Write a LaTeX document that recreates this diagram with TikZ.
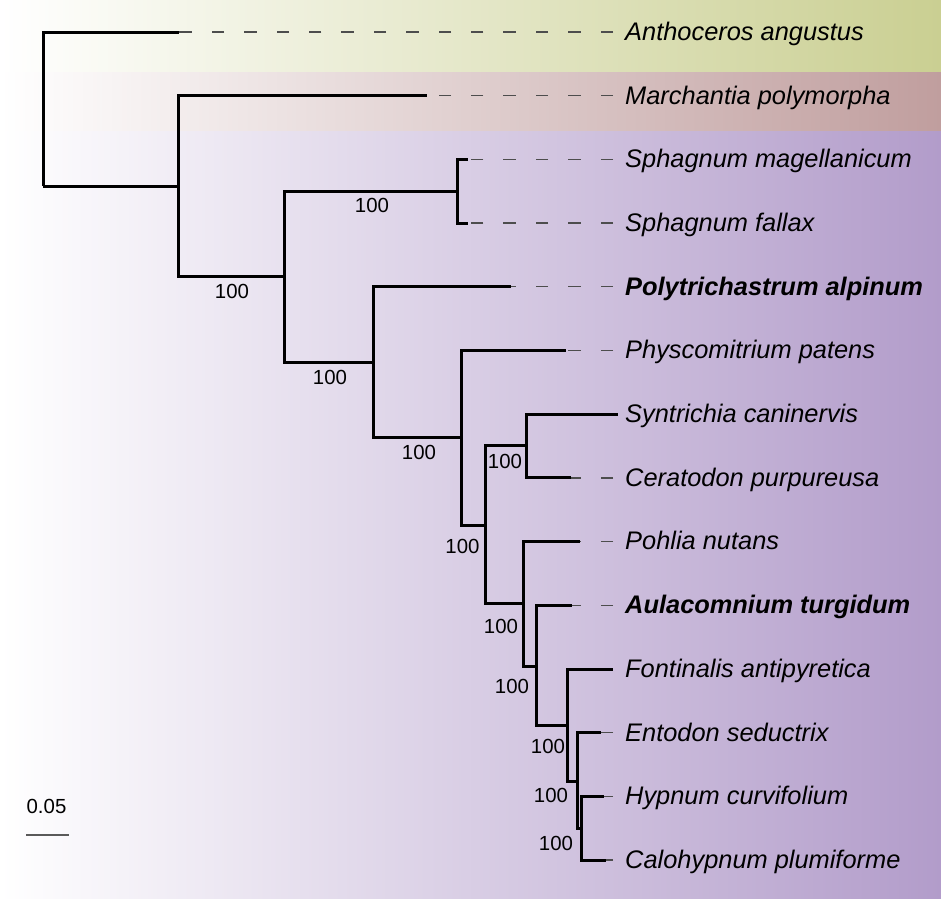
\documentclass[tikz,border=0pt]{standalone}
\usepackage{fontspec}
\setmainfont{Liberation Sans}
\definecolor{bgG}{RGB}{202,207,146}
\definecolor{bgR}{RGB}{192,158,158}
\definecolor{bgP}{RGB}{178,156,202}
\definecolor{dashgray}{RGB}{77,77,77}
\definecolor{bargray}{RGB}{90,90,90}
\tikzset{
  branch/.style={line width=3pt, black, line join=miter},
  dashline/.style={line width=1.3pt, dashgray, dash pattern=on 12.5pt off 19.9pt},
  taxon/.style={anchor=base west, inner sep=0pt, font=\fontsize{25.4}{30}\selectfont\itshape},
  taxonb/.style={taxon, font=\fontsize{25.4}{30}\selectfont\itshape\bfseries},
  boot/.style={inner sep=0pt, font=\fontsize{20.4}{24}\selectfont},
}
\begin{document}
\begin{tikzpicture}[x=1pt,y=-1pt]
\useasboundingbox (0,0) rectangle (941,898);
% background bands
\shade[left color=white, right color=bgG] (0,0) rectangle (941,72);
\shade[left color=white, right color=bgR] (0,72) rectangle (941,131);
\shade[left color=white, right color=bgP] (0,131) rectangle (941,898);

% internal nodes
\coordinate (root) at (43,186);
\coordinate (A) at (178,186);
\coordinate (B) at (284,276);
\coordinate (S) at (457,191);
\coordinate (C) at (373,362);
\coordinate (D) at (461,437);
\coordinate (E) at (485,525);
\coordinate (SC) at (526,445);
\coordinate (F) at (523,603);
\coordinate (G) at (536,666);
\coordinate (H) at (567,725);
\coordinate (I) at (577,781);
\coordinate (J) at (581,828);

% leaf tips
\coordinate (lAnth) at (179,32);
\coordinate (lMarc) at (427,95.7);
\coordinate (lSphM) at (468,159.4);
\coordinate (lSphF) at (468,223.1);
\coordinate (lPoly) at (511,286.8);
\coordinate (lPhys) at (566,350.5);
\coordinate (lSynt) at (618,414.2);
\coordinate (lCera) at (571,477.9);
\coordinate (lPohl) at (580,541.6);
\coordinate (lAula) at (572,605.3);
\coordinate (lFont) at (613,669);
\coordinate (lEnto) at (601,732.7);
\coordinate (lHypn) at (604,796.4);
\coordinate (lCalo) at (606,860.1);

% dash ends (label side)
\foreach \n/\y in {Anth/32,Marc/95.7,SphM/159.4,SphF/223.1,Poly/286.8,Phys/350.5,Cera/477.9,Pohl/541.6,Aula/605.3,Ento/732.7,Hypn/796.4,Calo/860.1}{
  \coordinate (d\n) at (613,\y);
  \draw[dashline] (d\n) -- (l\n);
}

% branches
\draw[branch] (root) |- (lAnth);
\draw[branch] (root) |- (A);
\draw[branch] (A) |- (lMarc);
\draw[branch] (A) |- (B);
\draw[branch] (B) |- (S);
\draw[branch] (B) |- (C);
\draw[branch] (S) |- (lSphM);
\draw[branch] (S) |- (lSphF);
\draw[branch] (C) |- (lPoly);
\draw[branch] (C) |- (D);
\draw[branch] (D) |- (lPhys);
\draw[branch] (D) |- (E);
\draw[branch] (E) |- (SC);
\draw[branch] (E) |- (F);
\draw[branch] (SC) |- (lSynt);
\draw[branch] (SC) |- (lCera);
\draw[branch] (F) |- (lPohl);
\draw[branch] (F) |- (G);
\draw[branch] (G) |- (lAula);
\draw[branch] (G) |- (H);
\draw[branch] (H) |- (lFont);
\draw[branch] (H) |- (I);
\draw[branch] (I) |- (lEnto);
\draw[branch] (I) |- (J);
\draw[branch] (J) |- (lHypn);
\draw[branch] (J) |- (lCalo);

% taxon labels
\node[taxon] (tAnth) at (625,40.3) {Anthoceros angustus};
\node[taxon] (tMarc) at (625,104.0) {Marchantia polymorpha};
\node[taxon] (tSphM) at (625,167.7) {Sphagnum magellanicum};
\node[taxon] (tSphF) at (625,231.4) {Sphagnum fallax};
\node[taxonb] (tPoly) at (625,295.1) {Polytrichastrum alpinum};
\node[taxon] (tPhys) at (625,358.8) {Physcomitrium patens};
\node[taxon] (tSynt) at (625,422.5) {Syntrichia caninervis};
\node[taxon] (tCera) at (625,486.2) {Ceratodon purpureusa};
\node[taxon] (tPohl) at (625,549.9) {Pohlia nutans};
\node[taxonb] (tAula) at (625,613.6) {Aulacomnium turgidum};
\node[taxon] (tFont) at (625,677.3) {Fontinalis antipyretica};
\node[taxon] (tEnto) at (625,741.0) {Entodon seductrix};
\node[taxon] (tHypn) at (625,804.7) {Hypnum curvifolium};
\node[taxon] (tCalo) at (625,868.4) {Calohypnum plumiforme};

% bootstrap values
\node[boot] (bS) at (372,205.5) {100};
\node[boot] (bB) at (232,291) {100};
\node[boot] (bC) at (330,377) {100};
\node[boot] (bD) at (419,452.5) {100};
\node[boot] (bE) at (462.5,546) {100};
\node[boot] (bSC) at (505,461) {100};
\node[boot] (bF) at (501,626) {100};
\node[boot] (bG) at (512,686.5) {100};
\node[boot] (bH) at (548,746.5) {100};
\node[boot] (bI) at (551,795) {100};
\node[boot] (bJ) at (556,843.5) {100};

% scale bar
\coordinate (sbL) at (26,835);
\coordinate (sbR) at (69,835);
\draw[line width=2.5pt, bargray] (sbL) -- (sbR);
\node[boot] (sbT) at (46.5,806) {0.05};
\end{tikzpicture}
\end{document}
